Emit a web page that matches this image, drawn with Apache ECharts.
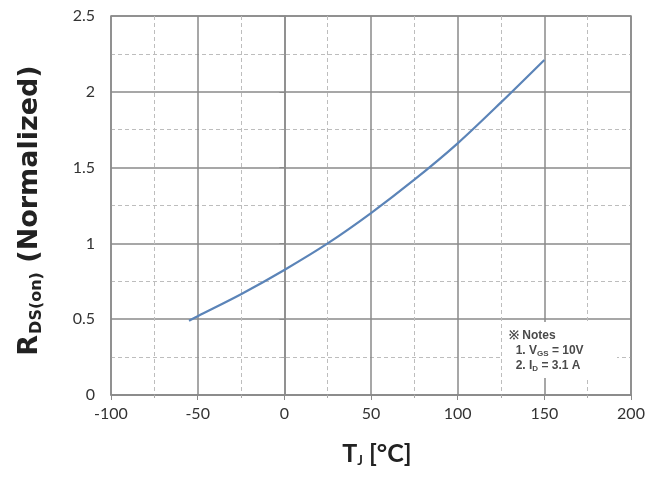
<!DOCTYPE html>
<html>
<head>
<meta charset="utf-8">
<script src="https://cdn.jsdelivr.net/npm/echarts@6/dist/echarts.min.js"></script>
<style>
  html, body { margin: 0; padding: 0; background: #fff; }
  #chart { width: 668px; height: 484px; }
</style>
</head>
<body>
<div id="chart"></div>
<script>
// Junction temperature (°C) and normalized on-resistance
const tempC = [-55, -50, -25, 0, 25, 50, 75, 100, 125, 150];
const rdsNorm = [0.49, 0.52, 0.665, 0.825, 1.0, 1.2, 1.42, 1.66, 1.93, 2.21];

const xTicks = { min: -100, max: 200, step: 50 };
const yTicks = { min: 0, max: 2.5, step: 0.5 };

const noteLines = ['※ Notes', '  1. V{s|GS} = 10V', '  2. I{s|D} = 3.1 A'];

const chart = echarts.init(document.getElementById('chart'));
const font = 'Lato, "Open Sans", sans-serif';
const titleFont = '"DejaVu Sans", sans-serif';
const noteFont = '"Liberation Sans", Arial, sans-serif';

chart.setOption({
  animation: false,
  backgroundColor: '#ffffff',
  grid: { left: 111, right: 37, top: 16, bottom: 89, show: true, borderColor: '#8a8a8a', borderWidth: 1.5 },
  xAxis: {
    type: 'value', min: xTicks.min, max: xTicks.max, interval: xTicks.step,
    name: 'T{s|J} [°C]', nameLocation: 'middle', nameGap: 45,
    nameTextStyle: {
      fontFamily: font, fontWeight: 'bold', fontSize: 25, color: '#222',
      padding: [0, 0, 0, 12],
      rich: { s: { fontFamily: font, fontWeight: 'bold', fontSize: 13, color: '#222', verticalAlign: 'bottom', padding: [14, 0, 0, 0] } }
    },
    axisLine: { show: true, onZero: false, lineStyle: { color: '#8a8a8a', width: 1.5 } },
    axisTick: { show: true, length: 5, lineStyle: { color: '#8a8a8a' } },
    minorTick: { show: true, splitNumber: 2, length: 3, lineStyle: { color: '#aaa' } },
    axisLabel: { fontFamily: font, fontSize: 16, color: '#333', margin: 11 },
    splitLine: { show: true, lineStyle: { color: '#8a8a8a', width: 1.5 } },
    minorSplitLine: { show: true, lineStyle: { color: '#bdbdbd', type: [4, 3], width: 1 } }
  },
  yAxis: {
    type: 'value', min: yTicks.min, max: yTicks.max, interval: yTicks.step,
    name: 'R{s|DS(on)} (Normalized)', nameLocation: 'middle', nameGap: 66, nameRotate: 90,
    nameTextStyle: {
      fontFamily: titleFont, fontWeight: 'bold', fontSize: 27, color: '#222',
      padding: [0, 10, 0, 0],
      rich: { s: { fontFamily: titleFont, fontWeight: 'bold', fontSize: 16, color: '#222', verticalAlign: 'bottom', padding: [14, 0, 0, 1] } }
    },
    axisLine: { show: true, lineStyle: { color: '#8a8a8a', width: 1.5 } },
    axisTick: { show: true, length: 5, lineStyle: { color: '#8a8a8a' } },
    minorTick: { show: true, splitNumber: 2, length: 3, lineStyle: { color: '#aaa' } },
    axisLabel: { fontFamily: font, fontSize: 16, color: '#333', margin: 16 },
    splitLine: { show: true, lineStyle: { color: '#8a8a8a', width: 1.5 } },
    minorSplitLine: { show: true, lineStyle: { color: '#bdbdbd', type: [4, 3], width: 1 } }
  },
  series: [{
    type: 'line',
    data: tempC.map((t, i) => [t, rdsNorm[i]]),
    smooth: 0.3,
    showSymbol: false,
    lineStyle: { color: '#5b84b8', width: 2.2 },
    z: 5
  }],
  graphic: [
    {
      // white panel under the test-condition notes
      type: 'rect', z: 9,
      shape: { x: 503, y: 322, width: 114, height: 56 },
      style: { fill: '#ffffff' }
    },
    {
      type: 'text',
      left: 509, top: 328,
      z: 10,
      style: {
        text: noteLines.join('\n'),
        fontFamily: noteFont, fontSize: 12, fontWeight: 'bold', lineHeight: 15,
        fill: '#4a4a4a',
        rich: { s: { fontFamily: noteFont, fontSize: 8, fontWeight: 'bold', fill: '#4a4a4a', verticalAlign: 'bottom', padding: [6, 0, 0, 0] } }
      }
    }
  ]
});
</script>
</body>
</html>
